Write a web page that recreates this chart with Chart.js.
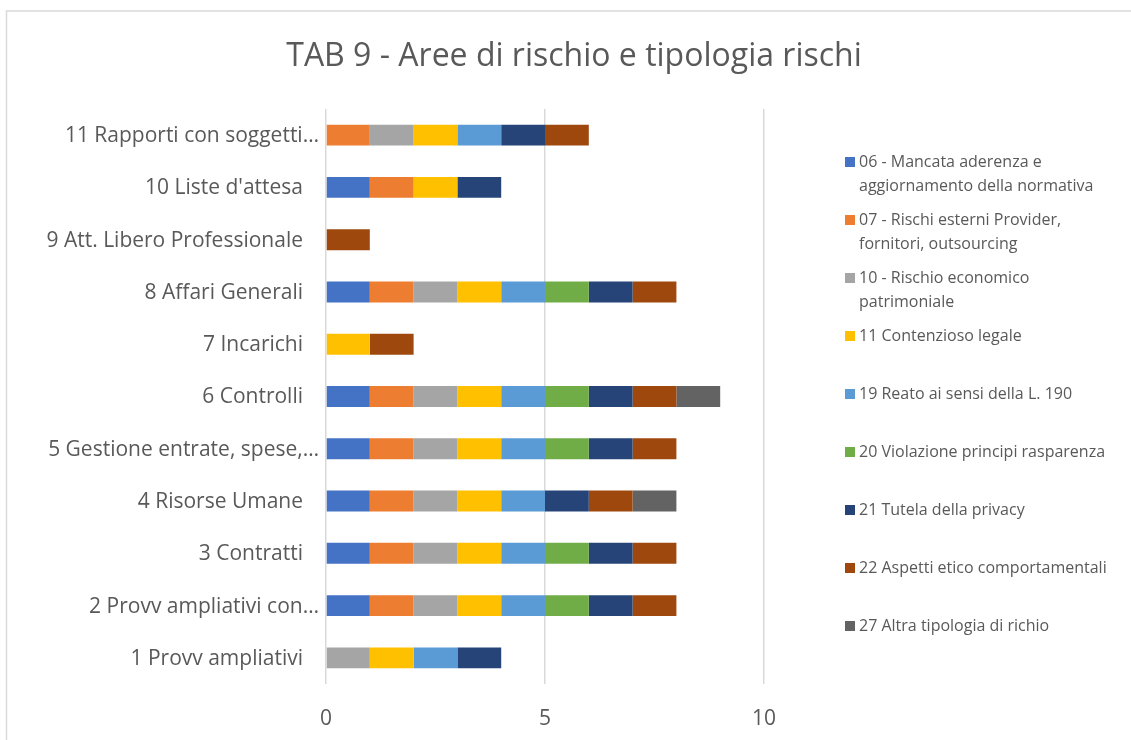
<!DOCTYPE html>
<html>
<head>
<meta charset="utf-8">
<script src="https://cdn.jsdelivr.net/npm/chart.js@4.4.1/dist/chart.umd.min.js"></script>
<style>
  html, body { margin: 0; padding: 0; background: #fff; }
  #wrap { width: 1131px; height: 740px; position: relative; }
</style>
</head>
<body>
<div id="wrap"><canvas id="c" width="1131" height="740"></canvas></div>
<script>
const chartTitle = "TAB 9 - Aree di rischio e tipologia rischi";
const categories = [
  "11 Rapporti con soggetti…",
  "10 Liste d'attesa",
  "9 Att. Libero Professionale",
  "8 Affari Generali",
  "7 Incarichi",
  "6 Controlli",
  "5 Gestione entrate, spese,…",
  "4 Risorse Umane",
  "3 Contratti",
  "2 Provv ampliativi con…",
  "1 Provv ampliativi"
];
const seriesNames = [
  ["06 - Mancata aderenza e", "aggiornamento della normativa"],
  ["07 - Rischi esterni Provider,", "fornitori, outsourcing"],
  ["10 - Rischio economico", "patrimoniale"],
  ["11 Contenzioso legale"],
  ["19 Reato ai sensi della L. 190"],
  ["20 Violazione principi rasparenza"],
  ["21 Tutela della privacy"],
  ["22 Aspetti etico comportamentali"],
  ["27 Altra tipologia di richio"]
];
const s06 = [0, 1, 0, 1, 0, 1, 1, 1, 1, 1, 0];
const s07 = [1, 1, 0, 1, 0, 1, 1, 1, 1, 1, 0];
const s10 = [1, 0, 0, 1, 0, 1, 1, 1, 1, 1, 1];
const s11 = [1, 1, 0, 1, 1, 1, 1, 1, 1, 1, 1];
const s19 = [1, 0, 0, 1, 0, 1, 1, 1, 1, 1, 1];
const s20 = [0, 0, 0, 1, 0, 1, 1, 0, 1, 1, 0];
const s21 = [1, 1, 0, 1, 0, 1, 1, 1, 1, 1, 1];
const s22 = [1, 0, 1, 1, 1, 1, 1, 1, 1, 1, 0];
const s27 = [0, 0, 0, 0, 0, 1, 0, 1, 0, 0, 0];
const xTicks = [0, 5, 10];

const seriesValues = [s06, s07, s10, s11, s19, s20, s21, s22, s27];
const colors = ["#4472C4", "#ED7D31", "#A5A5A5", "#FFC000", "#5B9BD5", "#70AD47", "#264478", "#9E480E", "#636363"];
const textColor = "#595959";
const fontFam = "'Open Sans', 'DejaVu Sans', sans-serif";

const datasets = seriesValues.map((vals, i) => ({
  label: seriesNames[i].join(" "),
  data: vals,
  backgroundColor: colors[i],
  borderWidth: 0,
  categoryPercentage: 1.0,
  barPercentage: 0.4
}));

const decorPlugin = {
  id: 'decor',
  beforeDraw(chart) {
    const ctx = chart.ctx;
    ctx.save();
    ctx.fillStyle = '#fff';
    ctx.fillRect(0, 0, chart.width, chart.height);
    ctx.strokeStyle = '#d9d9d9';
    ctx.lineWidth = 1.5;
    ctx.strokeRect(6.5, 11, 2000, 2000);
    ctx.restore();
  },
  afterDraw(chart) {
    const ctx = chart.ctx;
    ctx.save();
    // title
    ctx.fillStyle = textColor;
    ctx.font = "32px " + fontFam;
    ctx.textAlign = 'center';
    ctx.textBaseline = 'alphabetic';
    ctx.fillText(chartTitle, 574, 66);
    // category labels (truncated ones sit closer to the axis, as in the original)
    const yScale = chart.scales.y;
    ctx.font = "21px " + fontFam;
    ctx.textAlign = 'right';
    ctx.textBaseline = 'middle';
    chart.data.labels.forEach((lab, i) => {
      const y = yScale.getPixelForTick(i) + 1;
      const right = lab.endsWith('…') ? 319 : 303;
      ctx.fillText(lab, right, y);
    });
    // legend
    ctx.font = "16px " + fontFam;
    ctx.textAlign = 'left';
    ctx.textBaseline = 'alphabetic';
    chart.data.datasets.forEach((ds, i) => {
      const base = 167 + 58 * i;
      ctx.fillStyle = ds.backgroundColor;
      ctx.fillRect(845, base - 10, 10, 10);
      ctx.fillStyle = textColor;
      seriesNames[i].forEach((line, j) => {
        ctx.fillText(line, 859, base + j * 23.5);
      });
    });
    ctx.restore();
  }
};

new Chart(document.getElementById('c'), {
  type: 'bar',
  data: { labels: categories, datasets },
  options: {
    indexAxis: 'y',
    responsive: false,
    animation: false,
    devicePixelRatio: 1,
    layout: { padding: { top: 109, left: 6, right: 367, bottom: 0 } },
    plugins: {
      legend: { display: false },
      title: { display: false },
      tooltip: { enabled: true }
    },
    scales: {
      x: {
        stacked: true,
        min: 0,
        max: 10,
        afterBuildTicks(scale) { scale.ticks = xTicks.map(v => ({ value: v })); },
        afterFit(scale) { scale.height = 56; },
        grid: { color: '#d9d9d9', lineWidth: 1.5, drawTicks: false },
        border: { display: false },
        ticks: { color: textColor, font: { family: fontFam, size: 21 }, padding: 22 }
      },
      y: {
        stacked: true,
        afterFit(scale) { scale.width = 320; },
        grid: { display: false, drawTicks: false },
        border: { display: false },
        ticks: { display: false, autoSkip: false }
      }
    }
  },
  plugins: [decorPlugin]
});
</script>
</body>
</html>
